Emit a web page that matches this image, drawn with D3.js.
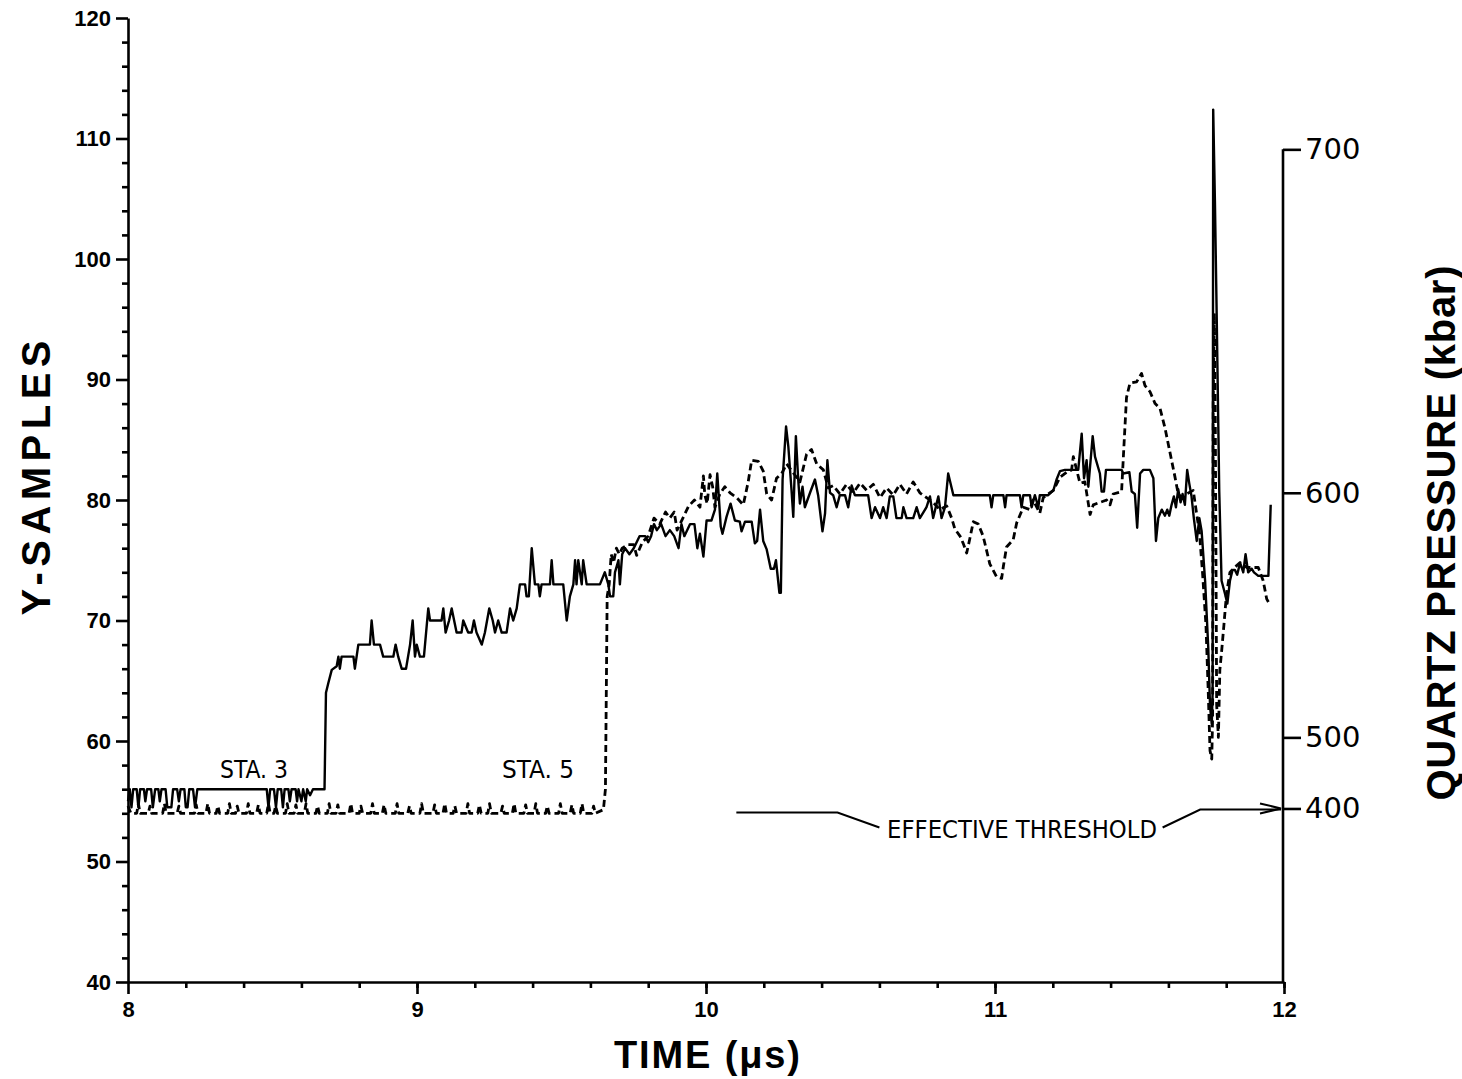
<!DOCTYPE html>
<meta charset="utf-8">
<style>
body { margin: 0; background: #fff; }
.axis path, .axis line { stroke: #000; stroke-width: 2.6; }
.axis text { fill: #000; }
.trace { fill: none; stroke: #000; stroke-linejoin: round; }
</style>
<svg width="1462" height="1079"></svg>
<script src="https://d3js.org/d3.v7.min.js"></script>
<script>

// STA. 3 (solid)
var sta3Time = [8.000,8.006,8.012,8.018,8.030,8.036,8.042,8.055,8.060,8.066,8.080,8.086,8.094,8.105,8.110,8.116,8.130,8.136,8.150,8.156,8.170,8.176,8.182,8.195,8.200,8.206,8.212,8.225,8.232,8.240,
  8.480,8.486,8.492,8.505,8.512,8.518,8.530,8.536,8.542,8.555,8.560,8.566,8.580,8.585,8.590,8.600,8.606,8.615,8.620,8.630,8.640,8.660,8.680,
  8.685,8.693,8.705,8.722,8.728,8.733,8.739,8.745,8.780,8.785,8.797,8.837,8.843,8.851,8.872,8.883,8.918,8.926,8.935,8.947,8.962,8.976,8.985,8.993,8.999,9.010,9.024,
  9.039,9.045,9.085,9.091,9.099,9.111,9.120,9.137,9.154,9.160,9.177,9.189,9.197,9.206,9.224,9.235,9.250,9.262,9.270,9.281,9.293,9.310,9.322,9.333,9.345,9.356,9.374,9.379,9.387,
  9.397,9.408,9.420,9.425,9.431,9.460,9.466,9.472,9.506,9.518,9.529,9.541,9.547,9.552,9.558,9.570,9.575,9.587,9.633,9.650,9.662,9.668,9.679,9.685,9.697,9.702,
  9.710,9.720,9.735,9.750,9.770,9.790,9.800,9.810,9.820,9.830,9.845,9.860,9.875,9.890,9.905,9.915,9.925,9.945,9.960,9.970,
  9.979,9.991,10.002,10.019,10.031,10.039,10.051,10.057,10.071,10.085,10.100,10.117,10.123,10.135,10.158,10.169,10.177,10.187,10.198,10.210,10.224,10.235,10.242,10.254,10.259,
  10.265,10.277,10.285,10.296,10.302,10.311,10.319,10.325,10.334,10.342,10.360,10.377,10.388,10.403,10.412,10.420,10.429,10.440,10.452,10.463,10.481,10.492,10.504,10.515,10.544,
  10.561,10.573,10.585,10.602,10.613,10.625,10.636,10.648,10.659,10.677,10.683,10.694,10.717,10.729,10.740,10.763,10.775,10.786,10.804,10.815,10.827,10.838,10.856,
  10.982,10.988,10.994,11.029,11.035,11.040,11.086,11.092,11.098,11.121,11.127,11.138,11.150,11.155,11.184,11.202,11.213,11.225,11.242,11.288,
  11.300,11.308,11.317,11.323,11.338,11.346,11.363,11.369,11.377,11.384,11.438,11.444,11.465,11.473,11.484,11.492,11.502,11.513,11.536,11.548,11.557,11.565,11.577,11.588,
  11.596,11.603,11.611,11.619,11.626,11.634,11.642,11.649,11.657,11.665,11.672,11.680,11.688,11.698,11.707,11.715,11.727,11.738,11.744,11.750,11.753,11.755,11.761,11.767,
  11.776,11.784,11.796,11.804,11.813,11.822,11.830,11.838,11.848,11.859,11.867,11.876,11.888,11.896,11.911,11.946,11.954];
var sta3Samples = [55,56,54.5,56,56,54.5,56,56,55,56,56,54.5,56,56,55,56,56,54.5,54.5,56,56,55,56,56,54.5,54.5,56,56,54.5,56,
  56,54.5,56,56,54.5,56,56,54.5,56,56,55,56,56,55,56,55,56,55,56,55.5,56,56,56,
  64,64.8,65.9,66.2,67,66,67,67,67,66,68,68,70,68,68,67,67,68,67,66,66,68,70,67,68,67,67,
  71,70,70,71,69,70,71,69,69,70,69,69,70,69,68,69,71,70,69,70,69,69,71,70,71,73,73,72,72,
  76,73,73,72,73,73,75,73,73,70,72,73,75,73,75,73,75,73,73,74,73,72,72,74,75,73,
  75.5,76,75.5,76,77,77,76.5,77,78,77.5,78,77,77.5,77,76,78,77,78,78,76,
  77.2,75.3,78.3,78.3,79.2,82.2,77.8,77.2,78.6,79.7,78.3,78.2,77.4,78.2,78.2,76.4,76.6,79.2,76.6,75.9,74.3,74.3,75,72.3,72.3,
  81.7,86.1,84.4,80.8,78.6,85.3,81.7,79.7,81.1,79.4,80.6,81.7,80.4,77.4,78.9,83.3,80.6,80.4,79.4,80.4,80.4,79.4,81.2,80.4,80.4,
  80.4,78.5,79.4,78.5,79.4,78.5,80.3,80.3,78.5,78.5,79.4,78.5,78.5,79.4,78.5,79.4,80.3,78.5,80.3,78.5,79.4,82.2,80.4,
  80.4,79.4,80.4,80.4,79.4,80.4,80.4,79.4,80.4,80.4,79.4,80.4,79.4,80.4,80.4,80.8,81.7,82.4,82.5,82.5,
  85.5,81.8,83.3,81.1,85.3,83.6,82.2,80.7,80.7,82.5,82.5,82.2,82.3,80.7,80.5,77.7,82.2,82.5,82.5,81.8,76.6,78.5,79.2,78.7,
  79.2,78.7,79.6,80.3,79.4,80.9,79.8,80.5,79.6,82.5,81.4,80.3,78.5,76.6,78.5,77.4,73.3,67.7,62.9,61.4,64,112.4,104.8,95.5,
  80.7,73.3,72.2,71.4,73.3,74.2,74.2,73.8,74.8,74,75.5,74,74.3,74,73.7,73.7,79.6];

// STA. 5 (dashed)
var sta5Time = [8.000,8.010,8.030,8.036,8.042,8.070,8.076,8.082,8.120,8.126,8.132,8.170,8.176,8.182,8.230,8.236,8.242,8.270,8.276,8.282,8.305,8.311,8.317,8.345,8.351,8.357,
  8.372,8.378,8.384,8.410,8.416,8.422,8.445,8.451,8.457,8.480,8.486,8.492,8.505,8.511,8.517,8.545,8.551,8.557,8.575,8.581,8.587,8.610,8.616,8.622,8.650,8.656,8.662,
  8.690,8.696,8.702,8.720,8.726,8.732,8.765,8.771,8.777,8.800,8.806,8.812,8.840,8.846,8.852,8.880,8.886,8.892,8.925,8.931,8.937,8.968,8.974,8.980,9.010,9.016,9.022,
  9.055,9.061,9.067,9.090,9.096,9.102,9.125,9.131,9.137,9.170,9.176,9.182,9.210,9.216,9.222,9.245,9.251,9.257,9.290,9.296,9.302,9.330,9.336,9.342,9.370,9.376,9.382,
  9.405,9.411,9.417,9.445,9.451,9.457,9.490,9.496,9.502,9.530,9.536,9.542,9.565,9.571,9.577,9.605,9.611,9.617,9.645,
  9.652,9.658,9.665,9.672,9.680,9.690,9.700,9.710,9.730,9.750,9.760,9.780,9.800,9.820,9.840,9.860,9.875,9.890,9.900,9.920,9.940,9.960,
  9.979,9.991,9.996,10.004,10.014,10.023,10.031,10.048,10.065,10.083,10.106,10.129,10.146,10.158,10.181,10.198,10.210,10.227,10.244,10.262,10.279,10.325,10.348,10.365,
  10.383,10.406,10.423,10.440,10.463,10.486,10.510,10.533,10.556,10.579,10.602,10.625,10.648,10.671,10.694,10.717,10.740,10.763,10.786,10.809,10.833,10.850,10.861,
  10.879,10.890,10.902,10.913,10.925,10.942,10.959,10.982,11.006,11.023,11.029,11.040,11.063,11.075,11.098,11.121,11.132,11.155,11.167,11.202,11.225,11.248,11.265,11.271,
  11.294,11.311,11.329,11.340,11.363,11.386,11.398,11.409,11.438,11.444,11.455,11.467,11.490,11.507,11.519,11.536,11.554,11.571,11.588,11.605,11.622,11.634,11.646,
  11.663,11.686,11.698,11.707,11.718,11.730,11.738,11.744,11.750,11.753,11.755,11.759,11.762,11.767,11.773,11.778,11.784,11.792,11.801,11.813,11.824,11.848,11.871,
  11.894,11.911,11.928,11.940,11.949];
var sta5Samples = [54.6,54,54,54.8,54,54,54.6,54,54,54.8,54,54,54.6,54,54,54.7,54,54,54.8,54,54,54.6,54,54,54.8,54,
  54,54.6,54,54,54.8,54,54,54.7,54,54,54.8,54,54,54.6,54,54,54.8,54,54,54.7,54,54,54.8,54,54,54.6,54,
  54,54.8,54,54,54.7,54,54,54.8,54,54,54.6,54,54,54.8,54,54,54.7,54,54,54.8,54,54,54.6,54,54,54.8,54,
  54,54.7,54,54,54.8,54,54,54.6,54,54,54.8,54,54,54.7,54,54,54.8,54,54,54.6,54,54,54.8,54,54,54.7,54,
  54,54.8,54,54,54.6,54,54,54.8,54,54,54.7,54,54,54.8,54,54,54.6,54,54.3,
  56,72,73,75.5,74.8,76,75.5,76,76.3,76.3,75.4,76.5,77,78.5,78,79,78.5,79,77.5,78.5,79.5,80,
  79.4,82.0,80.4,79.7,82.1,81.1,79.4,80.5,81.1,80.6,80.2,79.6,81.5,83.3,83.2,82.4,80.5,80.0,81.8,82.2,83,81.5,83.8,84.2,
  83.0,82.5,81.0,81.2,80.5,81.3,80.6,81.4,80.8,81.3,80.2,81.0,80.4,81.3,80.5,81.5,80.6,80.2,79.8,79.2,79.5,78.5,77.6,
  77.0,76.4,75.6,76.8,78.2,78.0,77.0,74.7,73.6,73.5,74.5,76.1,76.7,78.1,79.4,79.2,80.0,78.9,80.2,80.8,81.9,82.3,82.5,83.6,
  81.4,81.5,78.8,79.6,79.8,80.0,79.6,80.5,80.7,83.5,88.5,89.7,89.8,90.5,89.5,89.0,88.0,87.6,86.0,84.0,82.0,80.5,80.2,
  80.5,80.8,78.8,77.4,74.0,69.6,64.0,59.2,58.5,62,88,95.5,88,63,60.3,65.9,67.4,69.6,72.2,74.0,74.3,74.8,74.4,
  74.4,74.4,73.3,71.8,71.4];

// left axis ticks, bottom axis ticks, right (pressure) axis calibration
var sampleTicks = [40, 50, 60, 70, 80, 90, 100, 110, 120];
var timeTicks = [8, 9, 10, 11, 12];
var pressureTicks = [400, 500, 600, 700];
var pressureAsSamples = [54.4, 60.3, 80.6, 109.1];
var thresholdKbar = 400;

var svg = d3.select("svg"),
    width = +svg.attr("width"),
    height = +svg.attr("height");

var x = d3.scaleLinear().domain([8, 12]).range([128, 1284]);
var y = d3.scaleLinear().domain([40, 120]).range([982, 18]);
// pressure is a non-linear calibration of the sample value
var p = d3.scaleLinear().domain(pressureTicks).range(pressureAsSamples.map(y));

var numFont = "'Liberation Sans', Arial, sans-serif";
var narrowFont = "'Liberation Sans Narrow', 'DejaVu Sans Condensed', 'Liberation Sans', sans-serif";

// minor ticks
svg.append("g")
    .attr("class", "axis")
    .attr("transform", "translate(128,0)")
    .call(d3.axisLeft(y).tickValues(d3.range(42, 120, 2).filter(function(d) { return d % 10; }))
      .tickSize(6).tickSizeOuter(0).tickFormat(""))
  .select(".domain").remove();

svg.append("g")
    .attr("class", "axis")
    .attr("transform", "translate(0,982)")
    .call(d3.axisBottom(x).tickValues(d3.range(8.2, 12, 0.2))
      .tickSize(6).tickSizeOuter(0).tickFormat(""))
  .select(".domain").remove();

// major ticks
var yAxis = svg.append("g")
    .attr("class", "axis")
    .attr("transform", "translate(128,0)")
    .call(d3.axisLeft(y).tickValues(sampleTicks).tickSize(12).tickSizeOuter(0).tickPadding(5));
yAxis.selectAll("text")
    .attr("font-family", numFont).attr("font-weight", "bold").attr("font-size", 22);

var xAxis = svg.append("g")
    .attr("class", "axis")
    .attr("transform", "translate(0,982)")
    .call(d3.axisBottom(x).tickValues(timeTicks).tickFormat(d3.format("d"))
      .tickSize(12).tickSizeOuter(0).tickPadding(7));
xAxis.selectAll("text")
    .attr("font-family", numFont).attr("font-weight", "bold").attr("font-size", 22);

var pAxis = svg.append("g")
    .attr("class", "axis")
    .attr("transform", "translate(1283,0)")
    .call(d3.axisRight(p).tickValues(pressureTicks).tickSize(18).tickSizeOuter(0).tickPadding(4));
pAxis.select(".domain").attr("d", "M0," + p(700) + "V" + y(40));
pAxis.selectAll("text")
    .attr("font-family", "'DejaVu Sans', sans-serif").attr("font-size", 29);

// traces
var line = d3.line()
    .x(function(d) { return x(d[0]); })
    .y(function(d) { return y(d[1]); });

svg.append("path")
    .datum(d3.zip(sta5Time, sta5Samples))
    .attr("class", "trace")
    .attr("stroke-width", 2.8)
    .attr("stroke-dasharray", "7,4")
    .attr("d", line);

svg.append("path")
    .datum(d3.zip(sta3Time, sta3Samples))
    .attr("class", "trace")
    .attr("stroke-width", 2.4)
    .attr("d", line);

// station labels
svg.append("text")
    .attr("x", 220).attr("y", 778)
    .attr("font-family", narrowFont).attr("font-size", 25)
    .attr("textLength", 68).attr("lengthAdjust", "spacingAndGlyphs")
    .text("STA. 3");

svg.append("text")
    .attr("x", 502).attr("y", 778)
    .attr("font-family", narrowFont).attr("font-size", 25)
    .attr("textLength", 72).attr("lengthAdjust", "spacingAndGlyphs")
    .text("STA. 5");

// effective threshold annotation
var ty = p(thresholdKbar);
svg.append("path")
    .attr("fill", "none").attr("stroke", "#000").attr("stroke-width", 2)
    .attr("d", "M" + x(10.105) + "," + (ty + 4) + "H" + x(10.455) + "L" + x(10.6) + "," + (ty + 19));
svg.append("path")
    .attr("fill", "none").attr("stroke", "#000").attr("stroke-width", 2)
    .attr("d", "M" + x(11.58) + "," + (ty + 19) + "L" + x(11.71) + "," + (ty + 1) + "H" + (x(12) - 3));
svg.append("path")
    .attr("fill", "none").attr("stroke", "#000").attr("stroke-width", 2)
    .attr("d", "M" + (x(12) - 24) + "," + (ty - 5) + "L" + (x(12) - 3) + "," + ty + "L" + (x(12) - 24) + "," + (ty + 5));
svg.append("text")
    .attr("x", 887).attr("y", ty + 30)
    .attr("font-family", narrowFont).attr("font-size", 25)
    .attr("textLength", 270).attr("lengthAdjust", "spacingAndGlyphs")
    .text("EFFECTIVE THRESHOLD");

// axis titles
svg.append("text")
    .attr("transform", "translate(50,478) rotate(-90)")
    .attr("text-anchor", "middle")
    .attr("font-family", numFont).attr("font-weight", "bold").attr("font-size", 40)
    .attr("textLength", 275).attr("lengthAdjust", "spacing")
    .text("Y-SAMPLES");

svg.append("text")
    .attr("transform", "translate(1455,533) rotate(-90)")
    .attr("text-anchor", "middle")
    .attr("font-family", numFont).attr("font-weight", "bold").attr("font-size", 40)
    .attr("textLength", 535).attr("lengthAdjust", "spacing")
    .text("QUARTZ PRESSURE (kbar)");

svg.append("text")
    .attr("x", 707).attr("y", 1068)
    .attr("text-anchor", "middle")
    .attr("font-family", numFont).attr("font-weight", "bold").attr("font-size", 38)
    .attr("textLength", 186).attr("lengthAdjust", "spacing")
    .text("TIME (\u03bcs)");

</script>
